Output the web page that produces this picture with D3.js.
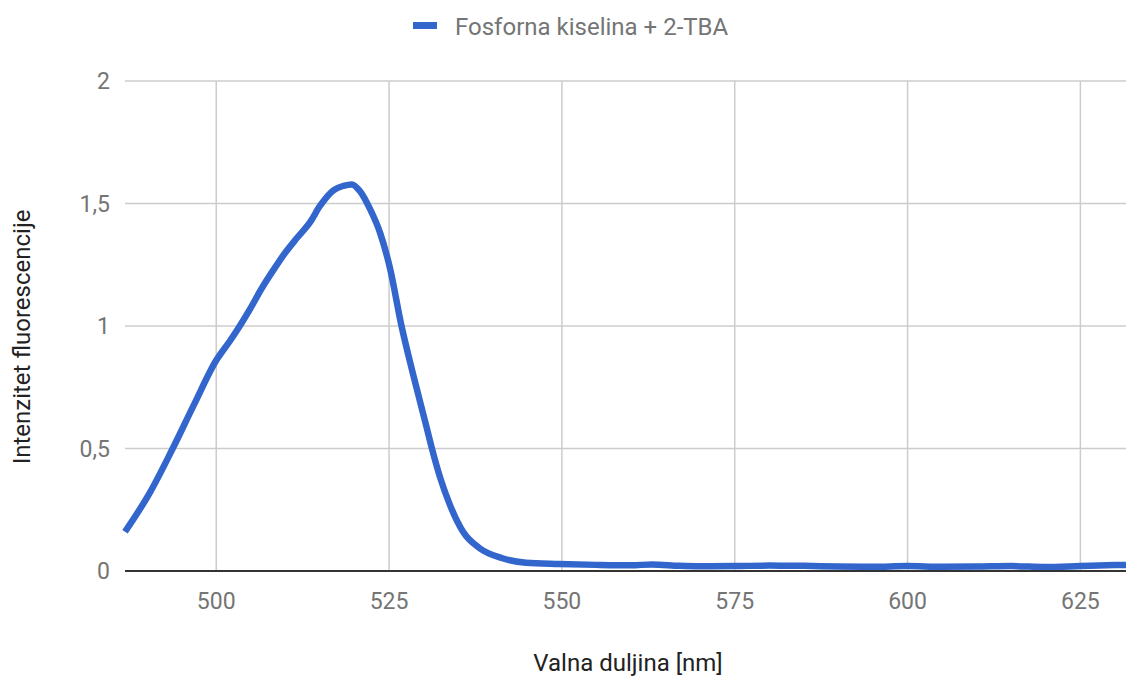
<!DOCTYPE html>
<html>
<head>
<meta charset="utf-8">
<script src="https://cdn.jsdelivr.net/npm/d3@7"></script>
<style>
  body { margin: 0; background: #fff; }
  svg text { font-family: Roboto, "Noto Sans", sans-serif; }
</style>
</head>
<body>
<div id="chart"></div>
<script>
// --- DATA ---
const seriesName = "Fosforna kiselina + 2-TBA";
const wavelength = [486.8, 490.4, 493.7, 496.8, 500, 502, 503.4, 504.9, 506.5, 508.3, 510, 511.7, 513.6, 515, 517, 518.4, 519.6, 520.8, 522.2, 523.7, 525.1, 526.8, 528.5, 530.4, 531.2, 532.4, 533.8, 535.7, 538.1, 541.4, 544.8, 549.6, 555, 560, 563, 567, 570, 575, 580, 585, 590, 595, 600, 605, 610, 615, 620, 625, 630, 631.6];
const intensity  = [0.16, 0.32, 0.50, 0.68, 0.86, 0.94, 1.0, 1.07, 1.15, 1.23, 1.30, 1.36, 1.425, 1.49, 1.555, 1.572, 1.578, 1.55, 1.48, 1.38, 1.24, 1.0, 0.80, 0.59, 0.50, 0.38, 0.27, 0.16, 0.093, 0.052, 0.034, 0.029, 0.025, 0.023, 0.027, 0.021, 0.019, 0.02, 0.022, 0.021, 0.018, 0.017, 0.02, 0.017, 0.018, 0.02, 0.016, 0.02, 0.024, 0.025];
const xTicks = [500, 525, 550, 575, 600, 625];
const yTicks = [0, 0.5, 1, 1.5, 2];

const W = 1126, H = 679;
const margin = { top: 81, right: 0, bottom: 108, left: 125 };
const innerW = W - margin.left - margin.right;
const innerH = H - margin.top - margin.bottom;

const svg = d3.select("#chart").append("svg").attr("width", W).attr("height", H);
const g = svg.append("g").attr("transform", `translate(${margin.left},${margin.top})`);

const x = d3.scaleLinear().domain([486.8, 631.6]).range([0, innerW]);
const y = d3.scaleLinear().domain([0, 2]).range([innerH, 0]);
const fmt = d => String(d).replace(".", ",");

// gridlines
g.selectAll("line.hgrid").data(yTicks.filter(d => d > 0)).enter().append("line")
  .attr("x1", 0).attr("x2", innerW)
  .attr("y1", d => y(d)).attr("y2", d => y(d))
  .attr("stroke", "#cccccc").attr("stroke-width", 1.5);
g.selectAll("line.vgrid").data(xTicks).enter().append("line")
  .attr("x1", d => x(d)).attr("x2", d => x(d))
  .attr("y1", 0).attr("y2", innerH)
  .attr("stroke", "#cccccc").attr("stroke-width", 1.5);

// tick labels
g.selectAll("text.ytick").data(yTicks).enter().append("text")
  .attr("x", -15).attr("y", d => y(d)).attr("dy", "0.35em")
  .attr("text-anchor", "end").attr("fill", "#757575").style("font-size", "23px")
  .text(fmt);
g.selectAll("text.xtick").data(xTicks).enter().append("text")
  .attr("x", d => x(d)).attr("y", innerH + 38)
  .attr("text-anchor", "middle").attr("fill", "#757575").style("font-size", "23px")
  .text(d => d);

// line
const data = wavelength.map((w, i) => ({ w, v: intensity[i] }));
const line = d3.line().x(d => x(d.w)).y(d => y(d.v)).curve(d3.curveMonotoneX);
g.append("path").datum(data)
  .attr("fill", "none").attr("stroke", "#3366cc").attr("stroke-width", 6.5)
  .attr("stroke-linejoin", "round").attr("d", line);

// baseline
g.append("line").attr("x1", 0).attr("x2", innerW)
  .attr("y1", y(0)).attr("y2", y(0))
  .attr("stroke", "#333333").attr("stroke-width", 2);

// axis titles
svg.append("text").attr("x", 628).attr("y", 671)
  .attr("text-anchor", "middle").attr("fill", "#222").style("font-size", "24px")
  .text("Valna duljina [nm]");
svg.append("text").attr("transform", "translate(30,337) rotate(-90)")
  .attr("text-anchor", "middle").attr("fill", "#222").style("font-size", "24px")
  .text("Intenzitet fluorescencije");

// legend
svg.append("rect").attr("x", 413).attr("y", 22).attr("width", 24).attr("height", 7)
  .attr("fill", "#3366cc");
svg.append("text").attr("x", 455).attr("y", 35)
  .attr("fill", "#757575").style("font-size", "24px")
  .text(seriesName);
</script>
</body>
</html>
